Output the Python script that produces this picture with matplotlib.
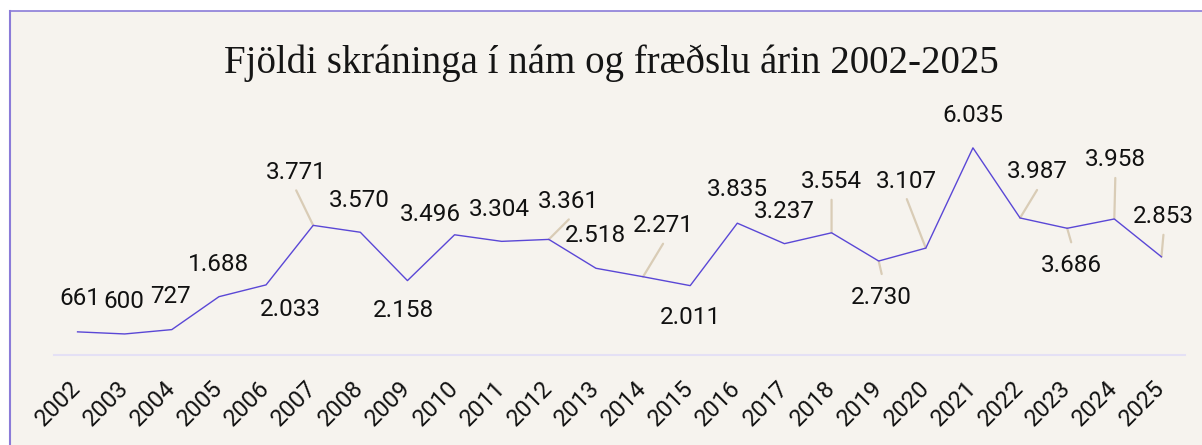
import numpy as np
import matplotlib
matplotlib.use('Agg')
import matplotlib.pyplot as plt
from matplotlib.patches import Rectangle
from matplotlib.lines import Line2D

# data
years = list(range(2002, 2026))
values = [661, 600, 727, 1688, 2033, 3771, 3570, 2158, 3496, 3304, 3361, 2518,
          2271, 2011, 3835, 3237, 3554, 2730, 3107, 6035, 3987, 3686, 3958, 2853]
title = 'Fjöldi skráninga í nám og fræðslu árin 2002-2025'

# label offsets from each point, in pixels (dx, dy up)
label_offsets = [(2, 33), (-1, 32), (-1, 33), (0, 32), (24, -25), (-17, 53),
                 (-1, 32), (-4, -30), (-24, 20), (-2, 32), (20, 38), (-1, 33),
                 (20, 51), (0, -32), (0, 34), (0, 32), (0, 51), (3, -36),
                 (-19, 67), (0, 32), (17, 46), (4, -37), (1, 59), (2, 40)]

bg = '#f6f3ee'
line_col = '#5a47d6'
leader_col = '#d9ccb6'
frame_col = '#8b7bd8'

W, H = 1202, 445
fig = plt.figure(figsize=(W / 100, H / 100), dpi=100)
fig.patch.set_facecolor('white')
fig.patches.append(Rectangle((10 / W, 0), 1, (H - 11) / H, transform=fig.transFigure,
                             facecolor=bg, edgecolor='none', zorder=-5))
fig.lines.append(Line2D([10 / W, 10 / W], [0, (H - 11) / H], transform=fig.transFigure,
                        color=frame_col, lw=1.5, zorder=-4))
fig.lines.append(Line2D([10 / W, 1], [(H - 11) / H, (H - 11) / H], transform=fig.transFigure,
                        color=frame_col, lw=1.2, zorder=-4))

ax = fig.add_axes([54 / W, 90.5 / H, 1131 / W, 239.7 / H])
ax.set_facecolor('none')
ax.plot(years, values, color=line_col, lw=1.0, zorder=3)
ax.set_xlim(2001.5, 2025.5)
ax.set_ylim(0, 7000)

for x, v, (dx, dy) in zip(years, values, label_offsets):
    txt = f'{v:,}'.replace(',', '.')
    ax.annotate(txt, xy=(x, v), xytext=(dx, dy), textcoords='offset pixels',
                ha='center', va='center', fontsize=17.5, family='Roboto', color='#111111')
    if np.hypot(dx, dy) > 36:
        gap = 18 if dy > 0 else -23
        ax.annotate('', xy=(x, v), xytext=(dx, dy - gap), textcoords='offset pixels',
                    arrowprops=dict(arrowstyle='-', color=leader_col, lw=1.6,
                                    shrinkA=0, shrinkB=0), zorder=2)

for s in ['top', 'right', 'left']:
    ax.spines[s].set_visible(False)
ax.spines['bottom'].set_color('#e4e0f5')
ax.spines['bottom'].set_linewidth(1.5)
ax.set_yticks([])
ax.set_xticks(years)
ax.set_xticklabels([str(y) for y in years], rotation=45, ha='right', va='center',
                   rotation_mode='anchor', fontsize=17, family='Roboto', color='#111111')
ax.tick_params(axis='x', length=0, pad=22)

fig.text(611 / W, 1 - 73 / H, title, ha='center', va='baseline',
         fontsize=28, family='Liberation Serif', color='#151515')

fig.savefig('out.png', dpi=100, facecolor=fig.get_facecolor())
